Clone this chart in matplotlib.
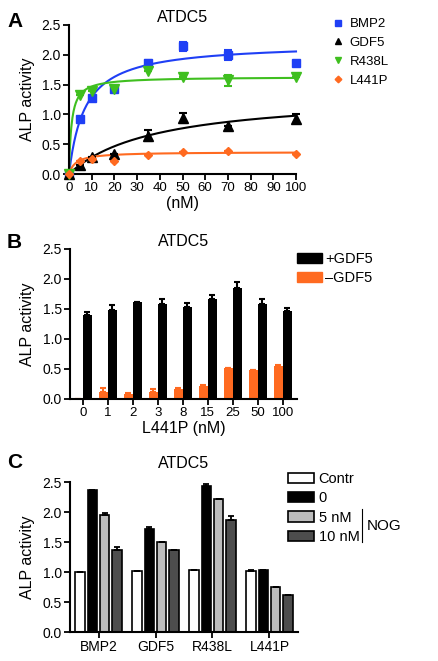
import numpy as np
import matplotlib
matplotlib.use("Agg")
import matplotlib.pyplot as plt
import matplotlib.transforms as mtransforms
from matplotlib.patches import Patch
from matplotlib.lines import Line2D

plt.rcParams['font.family'] = ['Liberation Sans', 'DejaVu Sans']

# ---------------- Data ----------------
# Panel A: dose-response
conc_A = [0, 5, 10, 20, 35, 50, 70, 100]
bmp2 = [0.0, 0.93, 1.27, 1.43, 1.87, 2.14, 2.00, 1.87]
bmp2_err = [0, 0, 0, 0, 0.04, 0.08, 0.08, 0]
gdf5 = [0.0, 0.15, 0.28, 0.34, 0.64, 0.94, 0.80, 0.93]
gdf5_err = [0, 0, 0, 0, 0.09, 0.09, 0, 0.07]
r438l = [0.0, 1.32, 1.40, 1.43, 1.73, 1.62, 1.57, 1.62]
r438l_err = [0, 0, 0, 0, 0, 0, 0.09, 0]
l441p = [0.0, 0.21, 0.25, 0.22, 0.32, 0.37, 0.38, 0.34]
l441p_err = [0, 0, 0, 0, 0, 0, 0, 0]
# fitted hyperbola parameters (Bmax, Kd)
fit_bmp2 = (2.2, 7.0)
fit_gdf5 = (1.35, 38.0)
fit_r438l = (1.63, 1.1)
fit_l441p = (0.37, 3.0)

# Panel B
cats_B = ['0', '1', '2', '3', '8', '15', '25', '50', '100']
plus_gdf5 = [1.40, 1.49, 1.61, 1.59, 1.54, 1.67, 1.85, 1.59, 1.47]
plus_gdf5_err = [0.05, 0.08, 0.0, 0.08, 0.06, 0.07, 0.10, 0.08, 0.05]
minus_gdf5 = [0.0, 0.12, 0.09, 0.12, 0.17, 0.22, 0.51, 0.48, 0.55]
minus_gdf5_err = [0.0, 0.06, 0.01, 0.04, 0.01, 0.01, 0.0, 0.0, 0.02]

# Panel C
cats_C = ['BMP2', 'GDF5', 'R438L', 'L441P']
contr = [1.0, 1.01, 1.04, 1.01]
contr_err = [0.0, 0.0, 0.0, 0.02]
nog0 = [2.37, 1.72, 2.43, 1.04]
nog0_err = [0.0, 0.03, 0.04, 0.0]
nog5 = [1.95, 1.50, 2.21, 0.75]
nog5_err = [0.03, 0.0, 0.0, 0.0]
nog10 = [1.37, 1.37, 1.87, 0.62]
nog10_err = [0.04, 0.0, 0.06, 0.0]

BLUE = '#1f3ff5'
GREEN = '#3fbf1f'
ORANGE = '#ff6a20'
BLACK = '#000000'

W, H = 438, 661
fig = plt.figure(figsize=(W / 100, H / 100), dpi=100)

def pix_axes(left, top, right, bottom):
    return fig.add_axes([left / W, 1 - bottom / H, (right - left) / W, (bottom - top) / H])

def style(ax):
    for s in ['top', 'right']:
        ax.spines[s].set_visible(False)
    for s in ['left', 'bottom']:
        ax.spines[s].set_linewidth(1.5)
    ax.tick_params(direction='out', width=1.3, length=4, labelsize=10, pad=2)
    ax.set_ylim(0, 2.5)
    ax.set_yticks([0, 0.5, 1.0, 1.5, 2.0, 2.5])
    ax.set_yticklabels(['0.0', '0.5', '1.0', '1.5', '2.0', '2.5'])

def ylabel(ax):
    ax.set_ylabel('ALP activity', fontsize=11.5)
    tr = mtransforms.blended_transform_factory(fig.transFigure, ax.transAxes)
    ax.yaxis.set_label_coords(35 / W, 0.5, transform=tr)

# ---------------- Panel A ----------------
axA = pix_axes(69, 25, 296, 174)
style(axA)
xs = np.linspace(0, 100, 400)
series = [
    (bmp2, bmp2_err, fit_bmp2, BLUE, 's', 6, 'BMP2'),
    (gdf5, gdf5_err, fit_gdf5, BLACK, '^', 6.5, 'GDF5'),
    (r438l, r438l_err, fit_r438l, GREEN, 'v', 6.5, 'R438L'),
    (l441p, l441p_err, fit_l441p, ORANGE, 'D', 4.5, 'L441P'),
]
handles = []
for vals, errs, (bmax, kd), col, mk, ms, lab in series:
    axA.plot(xs, bmax * xs / (kd + xs), color=col, lw=1.5, clip_on=False)
    axA.errorbar(conc_A, vals, yerr=errs, fmt=mk, color=col, ms=ms, capsize=3,
                 elinewidth=1.5, capthick=1.5, mec=col, clip_on=False, zorder=3)
    handles.append(Line2D([], [], ls='none', marker=mk, color=col, ms=ms * 0.75, label=lab))
axA.set_xlim(0, 100)
axA.set_xticks(np.arange(0, 101, 10))
axA.tick_params(axis='x', labelsize=9.5)
axA.set_xlabel('(nM)', fontsize=11.5, labelpad=1)
axA.set_title('ATDC5', fontsize=11.5, pad=2)
ylabel(axA)
axA.legend(handles=handles, loc='upper left', bbox_to_anchor=(333 / W, 1 - 18 / H),
           bbox_transform=fig.transFigure, frameon=False, fontsize=9.5,
           handlelength=0.8, handletextpad=0.45, labelspacing=0.5, borderpad=0,
           borderaxespad=0)
fig.text(7 / W, 1 - 27 / H, 'A', fontsize=15, fontweight='bold')

# ---------------- Panel B ----------------
axB = pix_axes(70, 249, 297, 399)
style(axB)
xb = np.arange(len(cats_B))
wb = 0.36
axB.bar(xb - wb / 2, minus_gdf5, wb, color=ORANGE, zorder=2,
        yerr=[np.zeros(len(xb)), minus_gdf5_err],
        error_kw=dict(ecolor=ORANGE, elinewidth=1.5, capsize=2, capthick=1.5))
axB.bar(xb + wb / 2, plus_gdf5, wb, color=BLACK, zorder=2,
        yerr=[np.zeros(len(xb)), plus_gdf5_err],
        error_kw=dict(ecolor=BLACK, elinewidth=1.5, capsize=2, capthick=1.5))
axB.set_xlim(-0.51, 8.57)
axB.set_xticks(xb)
axB.set_xticklabels(cats_B)
axB.tick_params(axis='x', labelsize=9.5)
axB.set_xlabel('L441P (nM)', fontsize=11.5, labelpad=1)
axB.set_title('ATDC5', fontsize=11.5, pad=2)
ylabel(axB)
axB.legend(handles=[Patch(color=BLACK, label='+GDF5'), Patch(color=ORANGE, label='\u2013GDF5')],
           loc='upper left', bbox_to_anchor=(297 / W, 1 - 252 / H),
           bbox_transform=fig.transFigure, frameon=False, fontsize=10.5,
           handlelength=1.7, handleheight=0.75, handletextpad=0.25,
           labelspacing=0.35, borderpad=0, borderaxespad=0)
fig.text(7 / W, 1 - 248 / H, 'B', fontsize=15, fontweight='bold')

# ---------------- Panel C ----------------
axC = pix_axes(70, 482, 298, 632)
style(axC)
xc = np.arange(len(cats_C))
pitch = 0.216
wc = 0.165
groups = [
    (contr, contr_err, 'white'),
    (nog0, nog0_err, BLACK),
    (nog5, nog5_err, '#bdbdbd'),
    (nog10, nog10_err, '#4d4d4d'),
]
for i, (vals, errs, col) in enumerate(groups):
    axC.bar(xc + (i - 1.5) * pitch, vals, wc, color=col, edgecolor=BLACK, linewidth=1.2,
            zorder=2, yerr=[np.zeros(len(xc)), errs],
            error_kw=dict(ecolor=BLACK, elinewidth=1.3, capsize=2, capthick=1.3))
axC.set_xlim(-0.5, 3.5)
axC.set_xticks(xc)
axC.set_xticklabels(cats_C)
axC.tick_params(axis='x', labelsize=10)
axC.set_title('ATDC5', fontsize=11.5, pad=10)
ylabel(axC)
legC = [Patch(facecolor=c, edgecolor=BLACK, linewidth=1.2, label=l)
        for (_, _, c), l in zip(groups, ['Contr', '0', '5 nM', '10 nM'])]
axC.legend(handles=legC, loc='upper left', bbox_to_anchor=(288 / W, 1 - 472 / H),
           bbox_transform=fig.transFigure, frameon=False, fontsize=10.5,
           handlelength=1.75, handleheight=0.7, handletextpad=0.35,
           labelspacing=0.36, borderpad=0, borderaxespad=0)
fig.add_artist(Line2D([362 / W, 362 / W], [1 - 509 / H, 1 - 542 / H], color=BLACK, lw=0.8,
                      transform=fig.transFigure))
fig.text(367 / W, 1 - 526 / H, 'NOG', fontsize=11, va='center', ha='left')
fig.text(7 / W, 1 - 468 / H, 'C', fontsize=15, fontweight='bold')

fig.savefig('out.png', dpi=100)
